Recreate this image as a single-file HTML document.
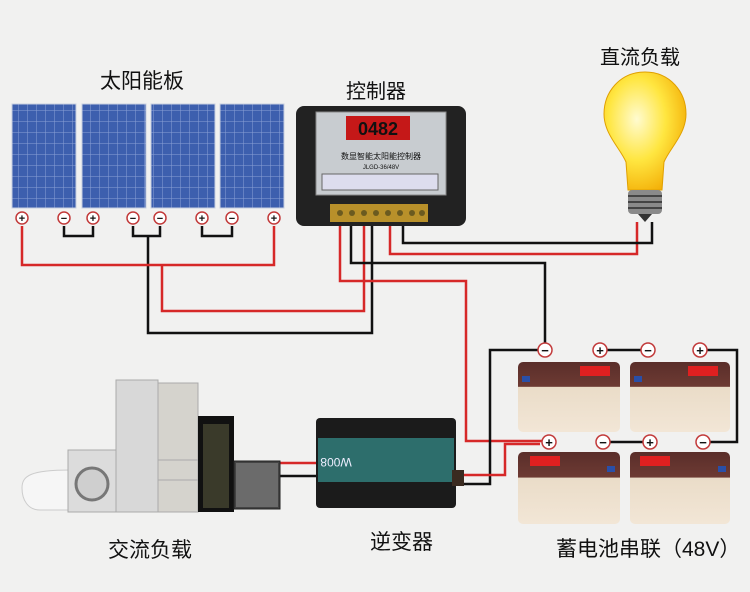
<!DOCTYPE html>
<html><head><meta charset="utf-8"><style>
html,body{margin:0;padding:0;background:#f1f1f0}
svg{display:block}
text{font-family:"Liberation Sans","Noto Sans CJK SC",sans-serif;fill:#111}
</style></head><body>
<svg width="750" height="592" viewBox="0 0 750 592" xmlns="http://www.w3.org/2000/svg">
<defs>
<pattern id="cells" width="9" height="11" patternUnits="userSpaceOnUse">
<rect width="9" height="11" fill="#3d5fae"/><path d="M0 0H9M0 0V11" stroke="#8aa0d6" stroke-width="1"/>
</pattern>
<radialGradient id="bulb" cx="0.4" cy="0.4" r="0.7"><stop offset="0" stop-color="#fffbd0"/><stop offset="0.5" stop-color="#ffe640"/><stop offset="1" stop-color="#f2a800"/></radialGradient>
<linearGradient id="batt" x1="0" y1="0" x2="0" y2="1"><stop offset="0" stop-color="#5a2e2a"/><stop offset="0.35" stop-color="#6d3a33"/><stop offset="0.36" stop-color="#eadcc8"/><stop offset="1" stop-color="#f2e6d6"/></linearGradient>
</defs>
<rect width="750" height="592" fill="#f1f1f0"/>

<!-- labels -->
<text x="100" y="88" font-size="21">太阳能板</text>
<text x="346" y="98" font-size="20">控制器</text>
<text x="600" y="64" font-size="20">直流负载</text>
<text x="108" y="557" font-size="21">交流负载</text>
<text x="370" y="549" font-size="21">逆变器</text>
<text x="556" y="556" font-size="21">蓄电池串联（48V）</text>

<!-- solar panels -->
<g stroke="#c8cfe0" stroke-width="1">
<rect x="12" y="104" width="64" height="104" fill="url(#cells)"/>
<rect x="82" y="104" width="64" height="104" fill="url(#cells)"/>
<rect x="151" y="104" width="64" height="104" fill="url(#cells)"/>
<rect x="220" y="104" width="64" height="104" fill="url(#cells)"/>
</g>

<!-- wires -->
<g fill="none" stroke-width="2.5">
<path d="M64 226V236H93V226M133 226V236H160V226M202 226V236H232V226" stroke="#111"/>
<path d="M148 236V333H372V215" stroke="#111"/>
<path d="M22 226V265H274V226" stroke="#d62828"/>
<path d="M162 265V311H364V215" stroke="#d62828"/>
<path d="M340 215V281H466V441H545" stroke="#d62828"/>
<path d="M351 215V263H545V343" stroke="#111"/>
<path d="M390 215V254H637V222" stroke="#d62828"/>
<path d="M403 215V243H652V222" stroke="#111"/>
<path d="M600 350H648M707 350H737V442H710M603 442H650" stroke="#111"/>
<path d="M462 484H490V350H538" stroke="#111"/>
<path d="M462 475H505V444H540" stroke="#d62828"/>
<path d="M270 463H318" stroke="#d62828"/>
<path d="M270 476H318" stroke="#111"/>
</g>

<!-- panel terminals -->
<g fill="#fff" stroke="#c23a3a" stroke-width="1.5" font-size="11">
<circle cx="22" cy="218" r="6"/><circle cx="64" cy="218" r="6"/><circle cx="93" cy="218" r="6"/><circle cx="133" cy="218" r="6"/>
<circle cx="160" cy="218" r="6"/><circle cx="202" cy="218" r="6"/><circle cx="232" cy="218" r="6"/><circle cx="274" cy="218" r="6"/>
</g>
<g fill="#333" font-size="11" text-anchor="middle" font-weight="bold">
<text x="22" y="222">+</text><text x="64" y="222">−</text><text x="93" y="222">+</text><text x="133" y="222">−</text>
<text x="160" y="222">−</text><text x="202" y="222">+</text><text x="232" y="222">−</text><text x="274" y="222">+</text>
</g>

<!-- controller -->
<rect x="296" y="106" width="170" height="120" rx="8" fill="#222"/>
<rect x="316" y="112" width="130" height="83" fill="#c8ccd0" stroke="#888"/>
<rect x="346" y="116" width="64" height="24" fill="#c51818"/>
<text x="378" y="135" font-size="18" text-anchor="middle" fill="#ff6a6a" font-weight="bold">0482</text>
<text x="381" y="159" font-size="8" text-anchor="middle">数显智能太阳能控制器</text>
<text x="381" y="169" font-size="6" text-anchor="middle">JLGD-36/48V</text>
<rect x="322" y="174" width="116" height="16" fill="#dde" stroke="#666"/>
<rect x="330" y="204" width="98" height="18" fill="#b8902a"/>
<g fill="#6b5a20"><circle cx="340" cy="213" r="3"/><circle cx="352" cy="213" r="3"/><circle cx="364" cy="213" r="3"/><circle cx="376" cy="213" r="3"/><circle cx="388" cy="213" r="3"/><circle cx="400" cy="213" r="3"/><circle cx="412" cy="213" r="3"/><circle cx="422" cy="213" r="3"/></g>

<!-- bulb -->
<path d="M645 72C620 72 604 92 604 114C604 134 620 148 626 162L628 190H662L664 162C670 148 686 134 686 114C686 92 670 72 645 72Z" fill="url(#bulb)" stroke="#e0a000"/>
<rect x="628" y="190" width="34" height="24" rx="4" fill="#8a8a8a"/>
<path d="M628 196H662M628 202H662M628 208H662" stroke="#444" stroke-width="2"/>
<path d="M638 214H652L645 222Z" fill="#333"/>

<!-- batteries -->
<g>
<rect x="518" y="362" width="102" height="70" rx="5" fill="url(#batt)"/>
<rect x="630" y="362" width="100" height="70" rx="5" fill="url(#batt)"/>
<rect x="518" y="452" width="102" height="72" rx="5" fill="url(#batt)"/>
<rect x="630" y="452" width="100" height="72" rx="5" fill="url(#batt)"/>
<g fill="#e02020"><rect x="580" y="366" width="30" height="10"/><rect x="688" y="366" width="30" height="10"/><rect x="530" y="456" width="30" height="10"/><rect x="640" y="456" width="30" height="10"/></g>
<g fill="#2a4fa8"><rect x="522" y="376" width="8" height="6"/><rect x="634" y="376" width="8" height="6"/><rect x="607" y="466" width="8" height="6"/><rect x="718" y="466" width="8" height="6"/></g>
</g>
<g fill="#fff" stroke="#c23a3a" stroke-width="1.5">
<circle cx="545" cy="350" r="7"/><circle cx="600" cy="350" r="7"/><circle cx="648" cy="350" r="7"/><circle cx="700" cy="350" r="7"/>
<circle cx="549" cy="442" r="7"/><circle cx="603" cy="442" r="7"/><circle cx="650" cy="442" r="7"/><circle cx="703" cy="442" r="7"/>
</g>
<g fill="#333" font-size="13" text-anchor="middle" font-weight="bold">
<text x="545" y="355">−</text><text x="600" y="355">+</text><text x="648" y="355">−</text><text x="700" y="355">+</text>
<text x="549" y="447">+</text><text x="603" y="447">−</text><text x="650" y="447">+</text><text x="703" y="447">−</text>
</g>

<!-- inverter -->
<rect x="316" y="418" width="140" height="90" rx="4" fill="#1b1b1b"/>
<rect x="318" y="438" width="136" height="44" fill="#2d6e6c"/>
<text x="336" y="466" font-size="12" fill="#fff" transform="rotate(180 336 462)" text-anchor="middle" style="fill:#eef">W008</text>
<rect x="452" y="470" width="12" height="16" fill="#3a2a20"/>

<!-- appliances -->
<path d="M22 488C22 476 30 470 70 470H80V510H40C28 510 22 500 22 488Z" fill="#f6f6f6" stroke="#ccc"/>
<rect x="68" y="450" width="48" height="62" fill="#dcdcdc" stroke="#aaa"/>
<circle cx="92" cy="484" r="16" fill="#cfcfcf" stroke="#777" stroke-width="3"/>
<rect x="116" y="380" width="42" height="132" fill="#d8d8d8" stroke="#aaa"/>
<rect x="158" y="383" width="40" height="129" fill="#d5d3cd" stroke="#aaa"/>
<path d="M158 460H198M158 480H198" stroke="#aaa"/>
<rect x="198" y="416" width="36" height="96" fill="#111"/>
<rect x="203" y="424" width="26" height="84" fill="#3a3a2a"/>
<rect x="234" y="461" width="46" height="48" fill="#444" stroke="#222"/>
<rect x="236" y="463" width="42" height="44" fill="#6b6b6b"/>
</svg>
</body></html>
